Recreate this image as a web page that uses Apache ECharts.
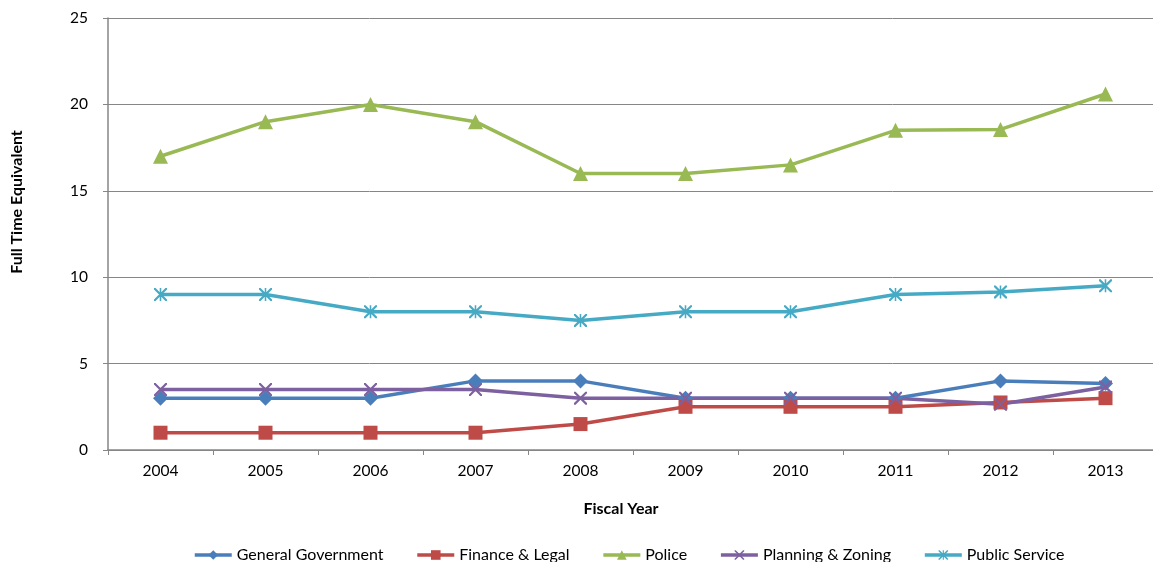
<!DOCTYPE html>
<html>
<head>
<meta charset="utf-8">
<script src="https://cdn.jsdelivr.net/npm/echarts@6/dist/echarts.min.js"></script>
<style>
  html, body { margin: 0; padding: 0; background: #fff; }
  #chart { width: 1153px; height: 562px; }
</style>
</head>
<body>
<div id="chart"></div>
<script>
const years = ['2004', '2005', '2006', '2007', '2008', '2009', '2010', '2011', '2012', '2013'];
const generalGov = [3, 3, 3, 4, 4, 3, 3, 3, 4, 3.85];
const financeLegal = [1, 1, 1, 1, 1.5, 2.5, 2.5, 2.5, 2.75, 3];
const police = [17, 19, 20, 19, 16, 16, 16.5, 18.5, 18.55, 20.6];
const planning = [3.5, 3.5, 3.5, 3.5, 3, 3, 3, 3, 2.65, 3.65];
const publicService = [9, 9, 8, 8, 7.5, 8, 8, 9, 9.15, 9.5];

const FONT = 'Lato';
const GRAY = '#868686';

// thin x and asterisk marks, drawn as filled paths
const crossPath = 'path://M0,0L1.2,0L10,8.8L10,10L8.8,10L0,1.2Z M8.8,0L10,0L10,1.2L1.2,10L0,10L0,8.8Z';
const starPath = crossPath + ' M4.4,0L5.6,0L5.6,10L4.4,10Z';

const makeSeries = (name, data, color, symbol, size) => ({
  name: name,
  type: 'line',
  data: data,
  symbol: symbol,
  symbolSize: size,
  showAllSymbol: true,
  itemStyle: { color: color },
  lineStyle: { color: color, width: 3.5 },
  emphasis: { disabled: true }
});

const chart = echarts.init(document.getElementById('chart'));
chart.setOption({
  animation: false,
  textStyle: { fontFamily: FONT },
  grid: { left: 108, top: 18, width: 1050, height: 432, containLabel: false, outerBoundsMode: 'none' },
  legend: {
    left: 193,
    top: 547,
    padding: 0,
    itemGap: 32,
    itemWidth: 37,
    itemHeight: 12,
    lineStyle: { width: 3.5 },
    textStyle: { fontFamily: FONT, fontSize: 16, color: '#000' },
    data: ['General Government', 'Finance & Legal', 'Police', 'Planning & Zoning', 'Public Service']
  },
  xAxis: {
    type: 'category',
    data: years,
    boundaryGap: true,
    axisLine: { lineStyle: { color: GRAY, width: 1.5 } },
    axisTick: { show: true, length: 5, interval: 0, lineStyle: { color: GRAY } },
    axisLabel: { margin: 13, fontSize: 15.5, color: '#000', fontFamily: FONT },
    splitLine: { show: false }
  },
  yAxis: {
    type: 'value',
    min: 0,
    max: 25,
    interval: 5,
    axisLine: { show: true, lineStyle: { color: GRAY, width: 1.5 } },
    axisTick: { show: true, length: 5, lineStyle: { color: GRAY } },
    axisLabel: { margin: 20, fontSize: 15.5, color: '#000', fontFamily: FONT },
    splitLine: { show: true, lineStyle: { color: GRAY, width: 1 } }
  },
  graphic: [
    {
      type: 'text',
      x: 17,
      y: 202,
      rotation: Math.PI / 2,
      style: {
        text: 'Full Time Equivalent',
        font: 'bold 16px ' + FONT,
        fill: '#000',
        align: 'center',
        verticalAlign: 'middle'
      }
    },
    {
      type: 'text',
      x: 621,
      y: 509,
      style: {
        text: 'Fiscal Year',
        font: 'bold 16px ' + FONT,
        fill: '#000',
        align: 'center',
        verticalAlign: 'middle'
      }
    }
  ],
  series: [
    makeSeries('General Government', generalGov, '#4A7EBB', 'diamond', 15),
    makeSeries('Finance & Legal', financeLegal, '#BE4B48', 'rect', 14),
    makeSeries('Police', police, '#98B954', 'triangle', 15),
    makeSeries('Planning & Zoning', planning, '#7D60A0', crossPath, 13),
    makeSeries('Public Service', publicService, '#46AAC5', starPath, 13)
  ]
});
</script>
</body>
</html>
